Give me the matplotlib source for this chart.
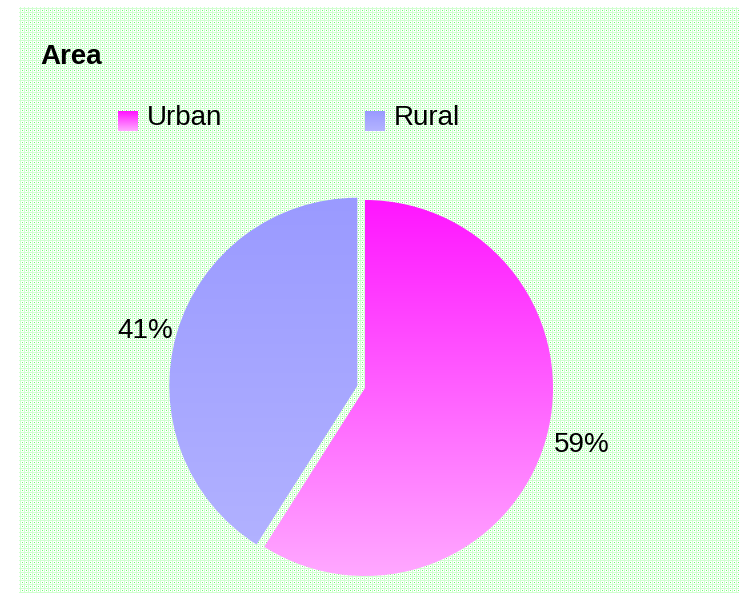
import numpy as np
import matplotlib
matplotlib.use("Agg")
import matplotlib.pyplot as plt
from matplotlib.colors import LinearSegmentedColormap

# Data
categories = ["Urban", "Rural"]
shares = [59, 41]
title = "Area"

# top / bottom colours of each slice's vertical gradient
grad_colors = {
    "Urban": ("#ff14ff", "#ffaaff"),
    "Rural": ("#9a9aff", "#b4b4ff"),
}

plt.rcParams["font.family"] = ["Liberation Sans", "DejaVu Sans"]

W, H = 741, 594
fig = plt.figure(figsize=(W / 100, H / 100), dpi=100)

# dotted green background, placed pixel for pixel
bg = np.full((H, W, 3), 255, dtype=np.uint8)
yy, xx = np.mgrid[0:H, 0:W]
inside = (xx >= 19) & (xx <= 738) & (yy >= 7) & (yy <= 592)
lines = inside & ((xx % 4 == 0) | (yy % 4 == 0))
dots = inside & (xx % 4 == 2) & (yy % 4 == 2)
bg[lines] = (208, 255, 208)
bg[dots] = (110, 250, 110)
fig.figimage(bg, xo=0, yo=0, origin="upper", zorder=-5)

ax = fig.add_axes([0, 0, 1, 1], zorder=1)
ax.patch.set_alpha(0)

# pie
cx, cy, r = 365, 206, 188
explode = [0, 8]
wedges, _ = ax.pie(shares, startangle=90, counterclock=False, radius=r,
                   center=(cx, cy), explode=explode, frame=True,
                   colors=["none", "none"],
                   wedgeprops=dict(linewidth=0))

for w, name in zip(wedges, categories):
    top, bot = grad_colors[name]
    cmap = LinearSegmentedColormap.from_list(name, [bot, top])
    grad = np.linspace(1, 0, 256).reshape(-1, 1)
    im = ax.imshow(grad, cmap=cmap, extent=(cx - r - 20, cx + r + 20, cy - r - 5, cy + r + 5),
                   aspect="auto", origin="upper", zorder=2, interpolation="bilinear")
    im.set_clip_path(w)

# percentage labels
ax.text(145, H - 331, f"{shares[1]}%", fontsize=20, ha="center", va="center", zorder=3)
ax.text(582, H - 445, f"{shares[0]}%", fontsize=20, ha="center", va="center", zorder=3)

# title
ax.text(40, H - 57, title, fontsize=20, fontweight="bold", ha="left", va="center", zorder=3)

# legend
legend_x = [118, 365]
for name, lx in zip(categories, legend_x):
    top, bot = grad_colors[name]
    cmap = LinearSegmentedColormap.from_list(name + "_key", [bot, top])
    grad = np.linspace(1, 0, 64).reshape(-1, 1)
    ax.imshow(grad, cmap=cmap, extent=(lx, lx + 20, H - 131, H - 111),
              aspect="auto", origin="upper", zorder=3)
    ax.text(lx + 29, H - 118, name, fontsize=20, ha="left", va="center", zorder=3)

ax.set_xlim(0, W)
ax.set_ylim(0, H)
ax.set_aspect("auto")
ax.axis("off")
fig.savefig("out.png", dpi=100)
